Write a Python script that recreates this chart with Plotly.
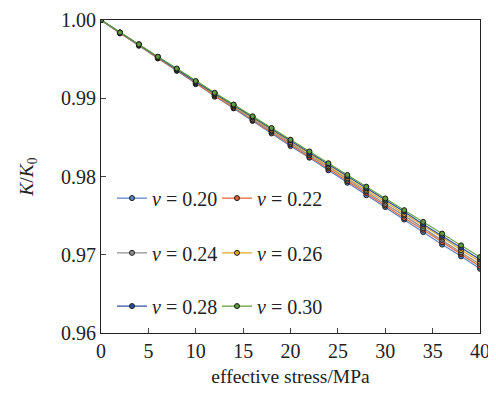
import plotly.graph_objects as go

stress = [0, 2, 4, 6, 8, 10, 12, 14, 16, 18, 20, 22, 24, 26, 28, 30, 32, 34, 36, 38, 40]

k_020 = [1.0000, 0.9983, 0.9967, 0.9951, 0.9935, 0.9918, 0.9902, 0.9887, 0.9871, 0.9855, 0.9839,
         0.9824, 0.9808, 0.9792, 0.9776, 0.9761, 0.9745, 0.9729, 0.9713, 0.9698, 0.9682]
k_022 = [1.0000, 0.9983, 0.9968, 0.9951, 0.9936, 0.9919, 0.9903, 0.9888, 0.9872, 0.9857, 0.9841,
         0.9825, 0.9810, 0.9794, 0.9779, 0.9763, 0.9747, 0.9732, 0.9716, 0.9701, 0.9685]
k_024 = [1.0000, 0.9984, 0.9968, 0.9952, 0.9936, 0.9920, 0.9904, 0.9889, 0.9873, 0.9858, 0.9842,
         0.9827, 0.9812, 0.9796, 0.9781, 0.9765, 0.9750, 0.9734, 0.9719, 0.9703, 0.9688]
k_026 = [1.0000, 0.9984, 0.9968, 0.9952, 0.9937, 0.9921, 0.9905, 0.9890, 0.9875, 0.9859, 0.9844,
         0.9829, 0.9813, 0.9798, 0.9783, 0.9768, 0.9752, 0.9737, 0.9722, 0.9706, 0.9691]
k_028 = [1.0000, 0.9984, 0.9969, 0.9953, 0.9937, 0.9921, 0.9906, 0.9891, 0.9876, 0.9861, 0.9846,
         0.9830, 0.9815, 0.9800, 0.9785, 0.9770, 0.9755, 0.9739, 0.9724, 0.9709, 0.9694]
k_030 = [1.0000, 0.9984, 0.9969, 0.9953, 0.9938, 0.9922, 0.9907, 0.9892, 0.9877, 0.9862, 0.9847,
         0.9832, 0.9817, 0.9802, 0.9787, 0.9772, 0.9757, 0.9742, 0.9727, 0.9712, 0.9697]

labels = ["0.20", "0.22", "0.24", "0.26", "0.28", "0.30"]
series = [k_020, k_022, k_024, k_026, k_028, k_030]
colors = ["#5b82c4", "#e2643a", "#8e8e8e", "#e3a82a", "#2f4f9e", "#5e9c3c"]
legends = ["legend", "legend", "legend2", "legend2", "legend3", "legend3"]

x_ticks = [0, 5, 10, 15, 20, 25, 30, 35, 40]
y_ticks = [0.96, 0.97, 0.98, 0.99, 1.00]
y_tick_text = ["0.96", "0.97", "0.98", "0.99", "1.00"]

FONT = "Liberation Serif"

fig = go.Figure()
for lab, ys, col, lg in zip(labels, series, colors, legends):
    fig.add_trace(go.Scatter(
        x=stress, y=ys, mode="lines+markers",
        name="<i>v</i> = " + lab,
        line=dict(color=col, width=1.2),
        marker=dict(color=col, size=5, line=dict(color="#1a1a1a", width=1)),
        legend=lg,
    ))

leg_common = dict(
    orientation="h", bgcolor="rgba(0,0,0,0)", borderwidth=0,
    font=dict(family=FONT, size=20, color="#222"),
    xanchor="left", yanchor="middle", x=0.029, entrywidth=60,
    itemwidth=30, tracegroupgap=0,
)

fig.update_layout(
    width=488, height=386,
    margin=dict(l=93, r=16, t=12, b=61, autoexpand=False),
    paper_bgcolor="white", plot_bgcolor="white",
    font=dict(family=FONT, size=20, color="#222"),
    showlegend=True,
    legend=dict(leg_common, y=0.431),
    legend2=dict(leg_common, y=0.256),
    legend3=dict(leg_common, y=0.086),
    xaxis=dict(
        range=[0, 40], tickvals=x_ticks, ticks="inside", ticklen=5,
        showline=True, linecolor="#222", linewidth=1, mirror=True,
        showgrid=False, zeroline=False, automargin=False,
        tickfont=dict(family=FONT, size=20, color="#222"),
        title=dict(text="effective stress/MPa", font=dict(family=FONT, size=19.5), standoff=8),
    ),
    yaxis=dict(
        range=[0.96, 1.00], tickvals=y_ticks, ticktext=y_tick_text, ticks="inside", ticklen=5,
        showline=True, linecolor="#222", linewidth=1, mirror=True,
        showgrid=False, zeroline=False, automargin=False,
        tickfont=dict(family=FONT, size=20, color="#222"),
        title=dict(text="<i>K</i>/<i>K</i><sub>0</sub>", font=dict(family=FONT, size=19.5), standoff=22),
    ),
)

fig.write_html("out.html")
